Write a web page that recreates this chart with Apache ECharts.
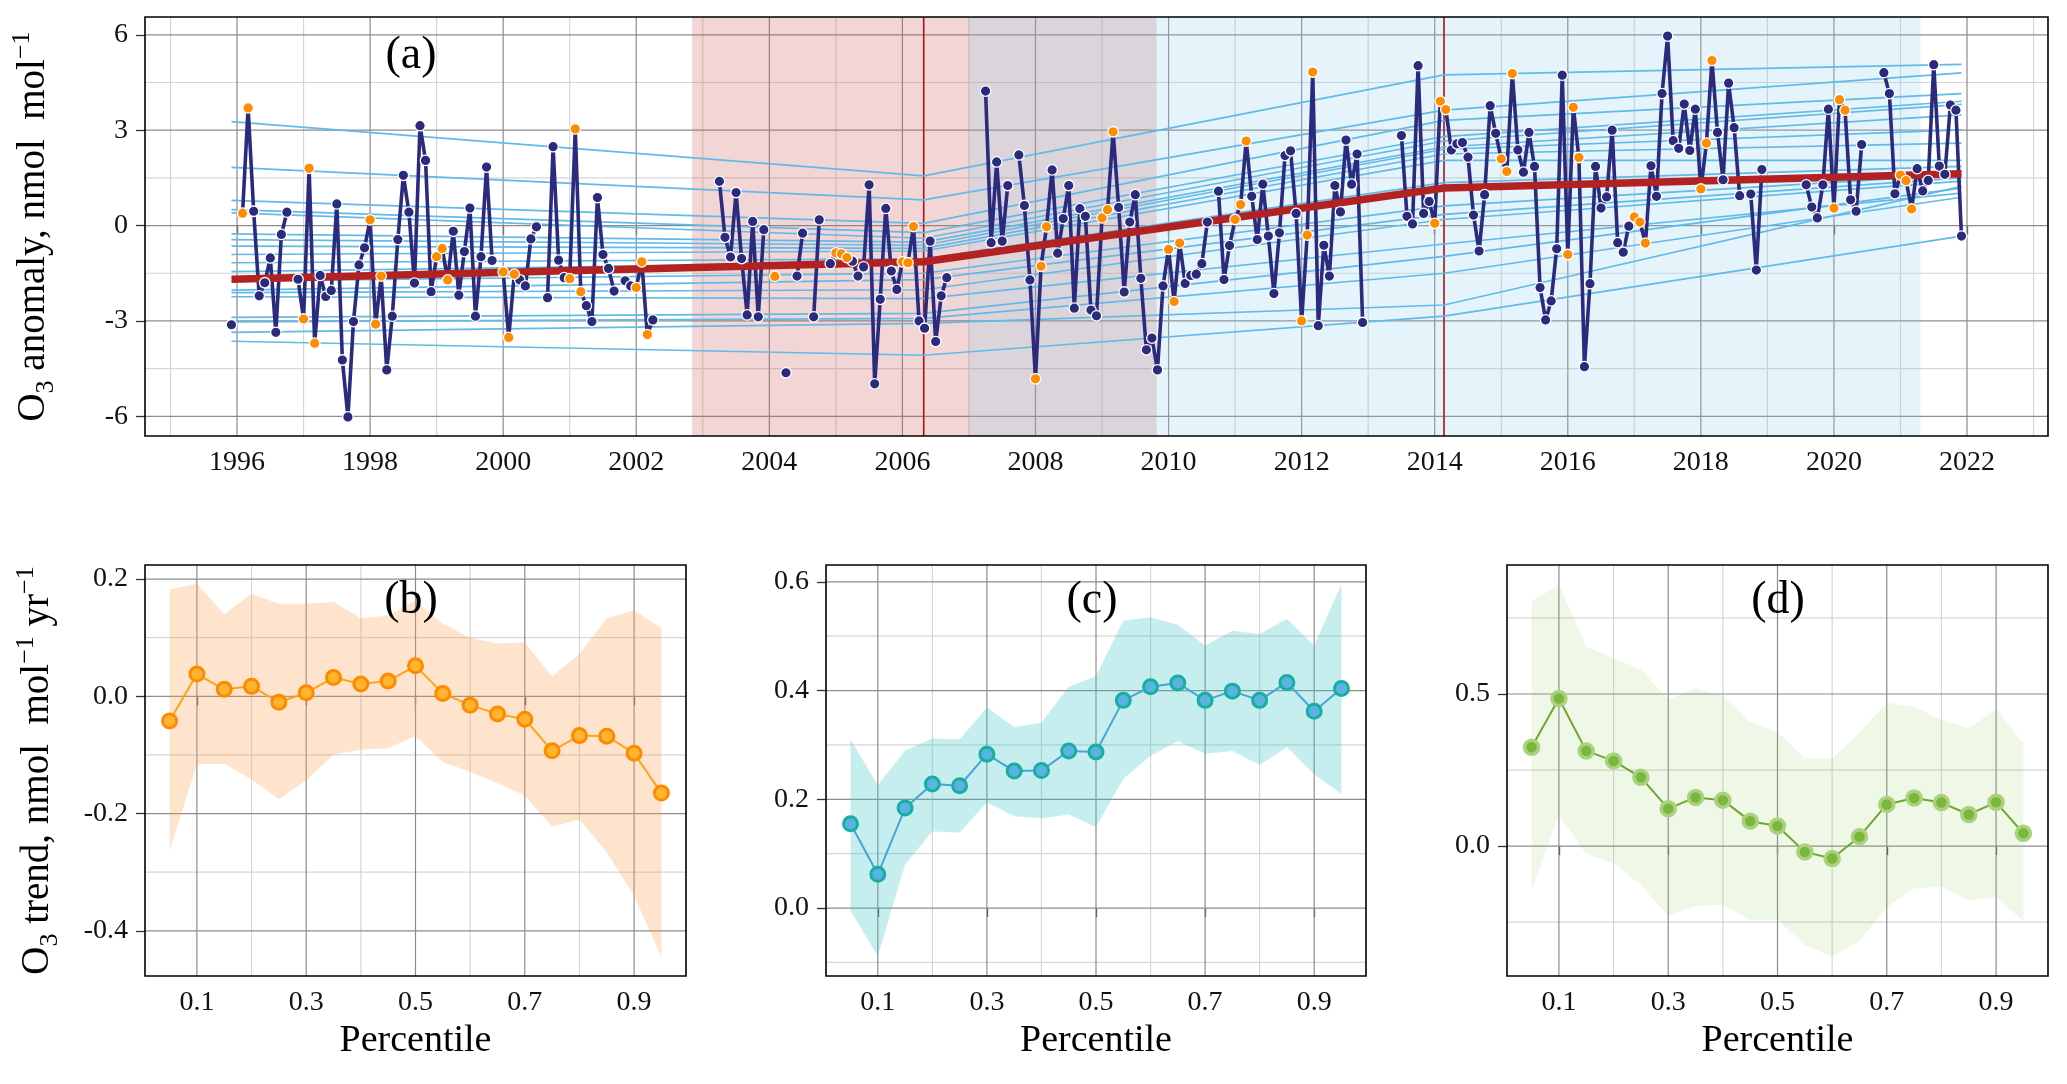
<!DOCTYPE html>
<html>
<head>
<meta charset="utf-8">
<title>O3 anomaly and percentile trends</title>
<script src="https://cdn.jsdelivr.net/npm/echarts@6.0.0/dist/echarts.min.js"></script>
<style>
  html, body { margin: 0; padding: 0; background: #fff; }
  #chart { width: 2067px; height: 1084px; }
</style>
</head>
<body>
<div id="chart"></div>
<script>
// ---------- panel (a): monthly O3 anomaly, first value = Dec 1995 ----------
const firstYear = 1995;
const firstMonth = 11; // 0 = Jan
const anomaly = [
  -3.12, null, 0.39, 3.70, 0.45, -2.21, -1.80, -1.02, -3.36, -0.28, 0.42, null,
  -1.69, -2.94, 1.80, -3.70, -1.57, -2.23, -2.04, 0.68, -4.23, -6.02, -3.02, -1.24,
  -0.70, 0.18, -3.10, -1.59, -4.54, -2.85, -0.44, 1.58, 0.42, -1.81, 3.14, 2.05,
  -2.08, -0.98, -0.72, -1.71, -0.18, -2.19, -0.82, 0.55, -2.85, -0.98, 1.84, -1.10,
  null, -1.46, -3.52, -1.53, -1.71, -1.90, -0.42, -0.04, null, -2.27, 2.48, -1.09,
  -1.64, -1.67, 3.04, -2.08, -2.52, -3.02, 0.88, -0.91, -1.35, -2.06, null, -1.74,
  -1.90, -1.95, -1.14, -3.43, -2.97, null, null, null, null, null, null, null,
  null, null, null, null, 1.39, -0.37, -0.99, 1.04, -1.04, -2.81, 0.13, -2.87,
  -0.13, null, -1.60, null, -4.63, null, -1.59, -0.24, null, -2.87, 0.18, null,
  -1.20, -0.86, -0.89, -1.01, -1.12, -1.59, -1.30, 1.28, -4.98, -2.32, 0.54, -1.43,
  -2.01, -1.14, -1.17, -0.03, -3.00, -3.23, -0.49, -3.65, -2.21, -1.64, null, null,
  null, null, null, null, 4.23, -0.54, 2.00, -0.49, 1.26, null, 2.22, 0.63,
  -1.71, -4.82, -1.28, -0.04, 1.75, -0.87, 0.22, 1.26, -2.60, 0.53, 0.29, -2.66,
  -2.84, 0.24, 0.50, 2.95, 0.57, -2.09, 0.11, 0.97, -1.66, -3.91, -3.54, -4.54,
  -1.90, -0.75, -2.39, -0.55, -1.82, -1.57, -1.53, -1.20, 0.11, null, 1.08, -1.70,
  -0.63, 0.19, 0.66, 2.66, 0.92, -0.44, 1.30, -0.33, -2.14, -0.23, 2.20, 2.35,
  0.38, -3.00, -0.30, 4.83, -3.15, -0.62, -1.59, 1.26, 0.43, 2.69, 1.30, 2.25,
  -3.05, null, null, null, null, null, null, 2.83, 0.29, 0.05, 5.03, 0.38,
  0.76, 0.07, 3.91, 3.65, 2.38, 2.57, 2.61, 2.15, 0.33, -0.80, 0.97, 3.77,
  2.90, 2.10, 1.70, 4.78, 2.38, 1.68, 2.93, 1.86, -1.95, -2.97, -2.37, -0.73,
  4.73, -0.91, 3.72, 2.14, -4.44, -1.83, 1.86, 0.55, 0.90, 3.00, -0.54, -0.84,
  -0.02, 0.27, 0.11, -0.55, 1.88, 0.92, 4.15, 5.96, 2.67, 2.43, 3.82, 2.36,
  3.66, 1.15, 2.59, 5.19, 2.93, 1.44, 4.48, 3.08, 0.94, null, 0.99, -1.40,
  1.76, null, null, null, null, null, null, null, 1.28, 0.58, 0.24, 1.28,
  3.66, 0.55, 3.96, 3.63, 0.81, 0.45, 2.55, null, null, null, 4.81, 4.15,
  1.00, 1.59, 1.41, 0.52, 1.79, 1.09, 1.42, 5.06, 1.87, 1.61, 3.79, 3.63,
  -0.33
];
const orangeMonths = [0, 1, 2]; // Jan-Mar points are orange

// percentile fits (0.05 ... 0.95), values at the knots
const knotYears = [1995.917, 2006.32, 2014.14, 2021.917];
const qStart  = [-3.64, -3.36, -3.03, -2.89, -2.24, -2.11, -2.03, -1.75, -1.45, -1.17, -0.91, -0.65, -0.44, -0.26, 0.40, 0.50, 0.79, 1.83, 3.27];
const qBreak1 = [-4.08, -3.08, -2.92, -2.76, -2.30, -2.02, -1.70, -1.50, -1.15, -1.05, -0.80, -0.72, -0.62, -0.52, -0.40, -0.22, 0.07, 0.81, 1.56];
const qBreak2 = [-2.85, -2.50, -1.50, -0.97, -0.58, 0.19, 0.35, 0.62, 1.15, 1.35, 2.05, 2.25, 2.40, 2.47, 2.66, 2.80, 3.31, 3.63, 4.74];
const qEnd    = [-0.33, 1.23, 0.89, 1.18, 1.02, 1.40, 1.50, 1.60, 1.70, 1.86, 2.05, 2.59, 3.01, 3.48, 3.81, 3.91, 4.15, 4.80, 5.07];
const meanTrend = [-1.69, -1.14, 1.18, 1.63];
const breakYears = [2006.32, 2014.14];
const shadePeriods = [[2002.84, 2009.82], [2007.0, 2021.30]];
const shadeColors = ['rgba(205, 92, 92, 0.25)', 'rgba(135, 206, 235, 0.22)'];

const yearTicks = [1996, 1998, 2000, 2002, 2004, 2006, 2008, 2010, 2012, 2014, 2016, 2018, 2020, 2022];
const yearMinor = [1995, 1997, 1999, 2001, 2003, 2005, 2007, 2009, 2011, 2013, 2015, 2017, 2019, 2021, 2023];
const anomTicks = [-6, -3, 0, 3, 6];
const anomMinor = [-4.5, -1.5, 1.5, 4.5];

// ---------- panels (b)-(d): trend per percentile with band ----------
const percentiles = [0.05, 0.10, 0.15, 0.20, 0.25, 0.30, 0.35, 0.40, 0.45, 0.50, 0.55, 0.60, 0.65, 0.70, 0.75, 0.80, 0.85, 0.90, 0.95];
const pctTicks = [0.1, 0.3, 0.5, 0.7, 0.9];
const pctMinor = [0.2, 0.4, 0.6, 0.8];

const trendB = [-0.042, 0.038, 0.012, 0.017, -0.010, 0.006, 0.032, 0.021, 0.026, 0.052, 0.005, -0.015, -0.030, -0.039, -0.093, -0.067, -0.068, -0.097, -0.165];
const upB    = [0.182, 0.192, 0.140, 0.175, 0.158, 0.158, 0.161, 0.133, 0.138, 0.163, 0.124, 0.100, 0.090, 0.092, 0.034, 0.072, 0.133, 0.147, 0.116];
const lowB   = [-0.263, -0.116, -0.115, -0.142, -0.175, -0.143, -0.099, -0.091, -0.088, -0.068, -0.112, -0.129, -0.148, -0.169, -0.222, -0.210, -0.266, -0.340, -0.445];

const trendC = [0.155, 0.062, 0.184, 0.228, 0.225, 0.283, 0.252, 0.253, 0.289, 0.287, 0.382, 0.407, 0.414, 0.382, 0.399, 0.382, 0.415, 0.362, 0.404];
const upC    = [0.310, 0.226, 0.290, 0.312, 0.310, 0.369, 0.333, 0.341, 0.407, 0.427, 0.529, 0.535, 0.521, 0.483, 0.510, 0.504, 0.532, 0.483, 0.596];
const lowC   = [-0.005, -0.088, 0.080, 0.141, 0.139, 0.194, 0.169, 0.165, 0.172, 0.149, 0.238, 0.280, 0.307, 0.284, 0.289, 0.263, 0.296, 0.246, 0.210];

const trendD = [0.325, 0.485, 0.313, 0.280, 0.226, 0.123, 0.160, 0.151, 0.082, 0.066, -0.019, -0.041, 0.031, 0.137, 0.158, 0.143, 0.104, 0.144, 0.042];
const upD    = [0.804, 0.859, 0.656, 0.617, 0.581, 0.482, 0.519, 0.495, 0.409, 0.376, 0.288, 0.288, 0.373, 0.471, 0.458, 0.414, 0.387, 0.450, 0.338];
const lowD   = [-0.145, 0.102, -0.026, -0.057, -0.128, -0.230, -0.197, -0.192, -0.243, -0.241, -0.326, -0.364, -0.311, -0.200, -0.139, -0.132, -0.180, -0.167, -0.246];

const ticksB = [-0.4, -0.2, 0, 0.2],  minorB = [-0.3, -0.1, 0.1];
const ticksC = [0, 0.2, 0.4, 0.6],    minorC = [-0.1, 0.1, 0.3, 0.5];
const ticksD = [0, 0.5],              minorD = [-0.25, 0.25, 0.75];

// ---------- helpers ----------
const FONT = 'Liberation Serif';
const A_X = [1994.617, 2023.217], A_Y = [-6.62, 6.56];

function gridLineData(xMajor, xMinor, yMajor, yMinor) {
  const d = [];
  xMinor.forEach(v => d.push([v, 0, 0]));
  yMinor.forEach(v => d.push([v, 1, 0]));
  xMajor.forEach(v => d.push([v, 0, 1]));
  yMajor.forEach(v => d.push([v, 1, 1]));
  return d;
}
function renderGridLine(params, api) {
  const cs = params.coordSys;
  const v = api.value(0), horiz = api.value(1), major = api.value(2);
  const style = { stroke: major ? '#8c8c8c' : '#d6d6d6', lineWidth: 1.2 };
  if (horiz) {
    const y = api.coord([0, v])[1];
    return { type: 'line', shape: { x1: cs.x, y1: y, x2: cs.x + cs.width, y2: y }, style };
  }
  const x = api.coord([v, 0])[0];
  return { type: 'line', shape: { x1: x, y1: cs.y, x2: x, y2: cs.y + cs.height }, style };
}
function gridSeries(idx, xMajor, xMinor, yMajor, yMinor) {
  return {
    type: 'custom', xAxisIndex: idx, yAxisIndex: idx, silent: true, z: 1,
    renderItem: renderGridLine, data: gridLineData(xMajor, xMinor, yMajor, yMinor)
  };
}
function bandSeries(idx, xs, lo, hi, fill) {
  return {
    type: 'custom', xAxisIndex: idx, yAxisIndex: idx, silent: true, z: 2,
    data: [[xs[0], lo[0]]],
    renderItem: function (params, api) {
      const pts = [];
      xs.forEach((x, i) => pts.push(api.coord([x, hi[i]])));
      for (let i = xs.length - 1; i >= 0; i--) pts.push(api.coord([xs[i], lo[i]]));
      return { type: 'polygon', shape: { points: pts }, style: { fill: fill } };
    }
  };
}
function trendSeries(idx, ys, lineColor, fill, ring, ringW) {
  return {
    type: 'line', xAxisIndex: idx, yAxisIndex: idx, z: 5,
    data: percentiles.map((p, i) => [p, ys[i]]),
    symbol: 'circle', symbolSize: 14,
    lineStyle: { color: lineColor, width: 2 },
    itemStyle: { color: fill, borderColor: ring, borderWidth: ringW }
  };
}
function axisCfg(idx, min, max, ticks, digits, isX, extra) {
  return Object.assign({
    type: 'value', gridIndex: idx, min: min, max: max,
    axisLine: { show: false },
    axisTick: { show: true, customValues: ticks, length: 9, lineStyle: { color: '#333', width: 1.3 } },
    axisLabel: {
      customValues: ticks, fontFamily: FONT, fontSize: 28, color: '#111',
      margin: isX ? 13 : 17,
      formatter: v => Number(v).toFixed(digits)
    },
    splitLine: { show: false }
  }, extra || {});
}
const richTitle = {
  n: { fontFamily: FONT, fontSize: 39, color: '#000', lineHeight: 50 },
  s: { fontFamily: FONT, fontSize: 26, color: '#000', lineHeight: 24, verticalAlign: 'bottom' },
  p: { fontFamily: FONT, fontSize: 26, color: '#000', lineHeight: 24, verticalAlign: 'top' }
};
const pctName = {
  name: 'Percentile', nameLocation: 'middle', nameGap: 46,
  nameTextStyle: { fontFamily: FONT, fontSize: 38, color: '#000' }
};

// ---------- panel (a) series ----------
const monthTime = anomaly.map((v, i) => firstYear + (firstMonth + i) / 12);
const lineData = anomaly.map((v, i) => [monthTime[i], v]);
const navyPts = [], orangePts = [];
anomaly.forEach((v, i) => {
  if (v === null) return;
  const m = (firstMonth + i) % 12;
  (orangeMonths.indexOf(m) >= 0 ? orangePts : navyPts).push([monthTime[i], v]);
});

const seriesA = [
  gridSeries(0, yearTicks, yearMinor, anomTicks, anomMinor),
  {
    type: 'custom', xAxisIndex: 0, yAxisIndex: 0, silent: true, z: 2,
    data: shadePeriods,
    renderItem: function (params, api) {
      const cs = params.coordSys;
      const x0 = api.coord([api.value(0), 0])[0];
      const x1 = api.coord([api.value(1), 0])[0];
      return { type: 'rect', shape: { x: x0, y: cs.y, width: x1 - x0, height: cs.height },
               style: { fill: shadeColors[params.dataIndex] } };
    }
  }
];
breakYears.forEach(y => seriesA.push({
  type: 'line', xAxisIndex: 0, yAxisIndex: 0, z: 3, silent: true, symbol: 'none',
  data: [[y, A_Y[0]], [y, A_Y[1]]],
  lineStyle: { color: '#A3141A', width: 1.6 }
}));
qStart.forEach((s, k) => seriesA.push({
  type: 'line', xAxisIndex: 0, yAxisIndex: 0, z: 4, silent: true, symbol: 'none',
  data: [[knotYears[0], s], [knotYears[1], qBreak1[k]], [knotYears[2], qBreak2[k]], [knotYears[3], qEnd[k]]],
  lineStyle: { color: '#62BAE8', width: 1.7 }
}));
seriesA.push({
  type: 'line', xAxisIndex: 0, yAxisIndex: 0, z: 5, silent: true, symbol: 'none',
  data: lineData, connectNulls: false,
  lineStyle: { color: '#2B2A7D', width: 3.6 }
});
seriesA.push({
  type: 'line', xAxisIndex: 0, yAxisIndex: 0, z: 6, silent: true, symbol: 'none',
  data: knotYears.map((y, i) => [y, meanTrend[i]]),
  lineStyle: { color: '#B22222', width: 7.5 }
});
seriesA.push({
  type: 'scatter', xAxisIndex: 0, yAxisIndex: 0, z: 7, data: navyPts, symbolSize: 10.5,
  itemStyle: { color: '#2B2A7D', borderColor: '#fff', borderWidth: 1.3, opacity: 1 }
});
seriesA.push({
  type: 'scatter', xAxisIndex: 0, yAxisIndex: 0, z: 7, data: orangePts, symbolSize: 10.5,
  itemStyle: { color: '#FF8C00', borderColor: '#fff', borderWidth: 1.3, opacity: 1 }
});

// ---------- bottom panels ----------
const seriesBottom = [
  gridSeries(1, pctTicks, pctMinor, ticksB, minorB),
  bandSeries(1, percentiles, lowB, upB, 'rgba(253, 165, 90, 0.3)'),
  trendSeries(1, trendB, '#FFA31A', '#FFB530', '#FF8A00', 3),
  gridSeries(2, pctTicks, pctMinor, ticksC, minorC),
  bandSeries(2, percentiles, lowC, upC, 'rgba(70, 200, 200, 0.3)'),
  trendSeries(2, trendC, '#45A5D6', '#5CB3DF', '#17AFA3', 3),
  gridSeries(3, pctTicks, pctMinor, ticksD, minorD),
  bandSeries(3, percentiles, lowD, upD, 'rgba(150, 200, 90, 0.15)'),
  trendSeries(3, trendD, '#6EA82B', '#7BB73C', '#A9D27F', 3.5)
];

const gridBase = { show: true, borderColor: '#000', borderWidth: 1.6, z: 10 };
const panelLabel = (t, x, y) => ({
  type: 'text', x: x, y: y, z: 100,
  style: { text: t, font: '46px "Liberation Serif"', fill: '#000', align: 'center', verticalAlign: 'middle' }
});

const chart = echarts.init(document.getElementById('chart'));
chart.setOption({
  animation: false,
  backgroundColor: '#fff',
  textStyle: { fontFamily: FONT },
  grid: [
    Object.assign({ left: 145, top: 17, width: 1903, height: 419 }, gridBase),
    Object.assign({ left: 145, top: 565, width: 541, height: 411 }, gridBase),
    Object.assign({ left: 826, top: 565, width: 540, height: 411 }, gridBase),
    Object.assign({ left: 1507, top: 565, width: 541, height: 411 }, gridBase)
  ],
  xAxis: [
    axisCfg(0, A_X[0], A_X[1], yearTicks, 0, true),
    axisCfg(1, 0.005, 0.995, pctTicks, 1, true, pctName),
    axisCfg(2, 0.005, 0.995, pctTicks, 1, true, pctName),
    axisCfg(3, 0.005, 0.995, pctTicks, 1, true, pctName)
  ],
  yAxis: [
    axisCfg(0, A_Y[0], A_Y[1], anomTicks, 0, false, {
      name: '{n|O}{s|3}{n| anomaly, nmol  mol}{p|−1}',
      nameLocation: 'middle', nameRotate: 90, nameGap: 86,
      nameTextStyle: { fontFamily: FONT, fontSize: 39, color: '#000', rich: richTitle }
    }),
    axisCfg(1, -0.477, 0.224, ticksB, 1, false, {
      name: '{n|O}{s|3}{n| trend, nmol  mol}{p|−1}{n| yr}{p|−1}',
      nameLocation: 'middle', nameRotate: 90, nameGap: 82,
      nameTextStyle: { fontFamily: FONT, fontSize: 39, color: '#000', rich: richTitle }
    }),
    axisCfg(2, -0.125, 0.631, ticksC, 1, false),
    axisCfg(3, -0.427, 0.924, ticksD, 1, false)
  ],
  graphic: [
    panelLabel('(a)', 411, 56),
    panelLabel('(b)', 411, 601),
    panelLabel('(c)', 1092, 601),
    panelLabel('(d)', 1778, 601)
  ],
  series: seriesA.concat(seriesBottom)
});
</script>
</body>
</html>
